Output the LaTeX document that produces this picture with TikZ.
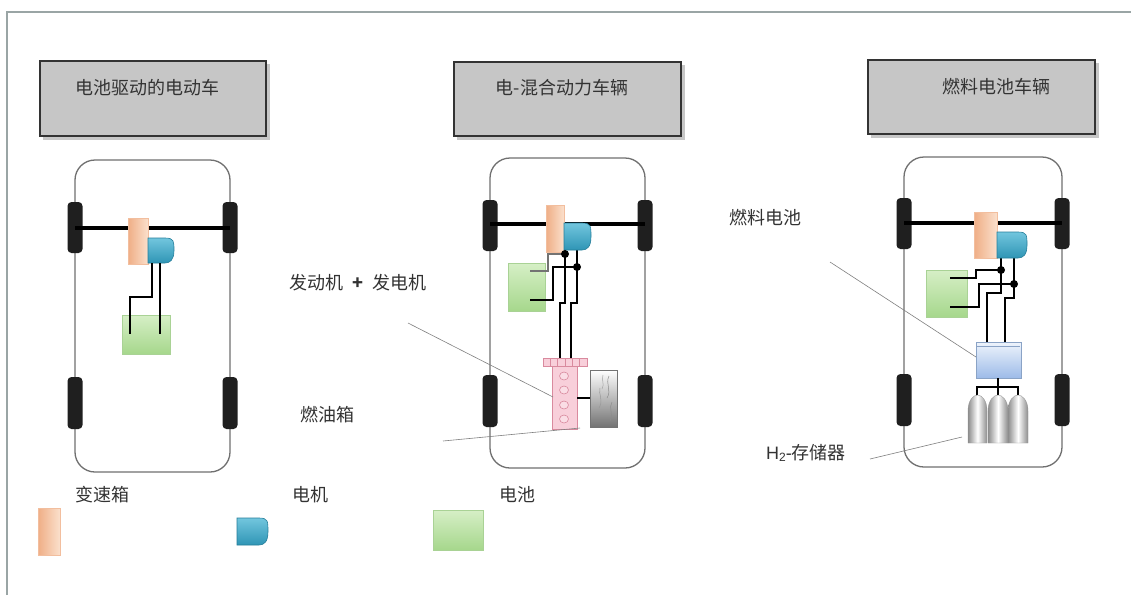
\documentclass[tikz,border=0pt]{standalone}
\usepackage{fontspec}
\setmainfont{Liberation Sans}
\newfontfamily\cjk{Noto Sans CJK SC}
\definecolor{framegray}{HTML}{9AA5A5}
\definecolor{boxgray}{HTML}{C6C6C6}
\definecolor{bodygray}{HTML}{707070}
\definecolor{gearA}{HTML}{EFAE86}
\definecolor{gearB}{HTML}{FBE0CC}
\definecolor{motA}{HTML}{72C6DE}
\definecolor{motB}{HTML}{2F95B5}
\definecolor{motD}{HTML}{267E9A}
\definecolor{batA}{HTML}{D6EFC6}
\definecolor{batB}{HTML}{A6D78C}
\definecolor{batD}{HTML}{A9D295}
\definecolor{engA}{HTML}{F8CFDA}
\definecolor{engD}{HTML}{D98A9E}
\definecolor{fcA}{HTML}{EEF4FC}
\definecolor{fcB}{HTML}{9DBBE8}
\definecolor{fcD}{HTML}{8AA3C6}
\definecolor{txt}{HTML}{333333}
\tikzset{
  framesty/.style={draw=framegray, line width=1.5pt},
  titlebox/.style={fill=boxgray, draw=black!80, line width=1.4pt},
  titleshadow/.style={fill=black!22},
  carbody/.style={draw=bodygray, line width=1.3pt, rounded corners=20pt},
  wheel/.style={fill=black!88, rounded corners=4pt},
  axle/.style={line width=3.2pt, black},
  gearsty/.style={left color=gearA, right color=gearB, draw=gearA!80!white, line width=0.4pt},
  motorsty/.style={top color=motA, bottom color=motB, draw=motD, line width=0.6pt},
  batsty/.style={top color=batA, bottom color=batB, draw=batD, line width=0.6pt},
  wire/.style={black, line width=1.2pt},
  junction/.style={circle, fill=black, inner sep=0pt, minimum size=8pt},
  leader/.style={draw=black!50, line width=0.6pt},
  lbl/.style={font=\cjk\fontsize{18}{20}\selectfont, text=txt, inner sep=0pt},
  engsty/.style={fill=engA, draw=engD, line width=0.6pt},
  fcsty/.style={top color=fcA, bottom color=fcB, draw=fcD, line width=0.6pt},
  tanksty/.style={left color=black!45, right color=black!45, middle color=white, draw=black!40, line width=0.4pt},
}
% D-shaped electric motor: left, top, right, bottom
\newcommand{\motorshape}[4]{%
  \path[motorsty] (#1,#2) -- ({#3-9},#2) .. controls (#3,#2) and (#3,{#2+3}) .. (#3,{(#2+#4)/2})
    .. controls (#3,{#4-3}) and ({#3-4},#4) .. ({#3-9},#4) -- (#1,#4) -- cycle;}
% hydrogen cylinder: left, right, top, bottom
\newcommand{\htank}[4]{%
  \path[tanksty] (#1,#4) -- (#1,{#3+16}) .. controls (#1,{#3+5}) and ({(#1+#2)/2-4},#3) .. ({(#1+#2)/2},#3)
    .. controls ({(#1+#2)/2+4},#3) and (#2,{#3+5}) .. (#2,{#3+16}) -- (#2,#4) -- cycle;}
% car outline with four wheels: left, top, right, bottom, wheel top front, wheel top rear
\newcommand{\carframe}[6]{%
  \draw[carbody] (#1,#2) rectangle (#3,#4);
  \path[wheel] ({#1-7.5},#5) rectangle ({#1+7.5},{#5+51});
  \path[wheel] ({#3-7.5},#5) rectangle ({#3+7.5},{#5+51});
  \path[wheel] ({#1-7.5},#6) rectangle ({#1+7.5},{#6+52});
  \path[wheel] ({#3-7.5},#6) rectangle ({#3+7.5},{#6+52});}
\begin{document}
\begin{tikzpicture}[x=1pt, y=-1pt]
\useasboundingbox (0,0) rectangle (1131,595);
\fill[white] (0,0) rectangle (1131,595);

% outer frame
\draw[framesty] (7,595) -- (7,12) -- (1131,12);

% ---------- title boxes ----------
\fill[titleshadow] (43,64) rectangle (270,140);
\path[titlebox] (40,61) rectangle (266,136);
\node[lbl] (t1) at (147,88) {电池驱动的电动车};

\fill[titleshadow] (457,65) rectangle (685,140);
\path[titlebox] (454,62) rectangle (681,136);
\node[lbl] (t2) at (562,88) {电-混合动力车辆};

\fill[titleshadow] (871,63) rectangle (1099,138);
\path[titlebox] (868,60) rectangle (1095,134);
\node[lbl] (t3) at (996,87) {燃料电池车辆};

% ---------- battery electric car ----------
\carframe{75}{160}{230}{472}{202}{377}
\draw[axle] (75,228) -- (230,228);
\path[gearsty] (128,218) rectangle (148,264);
\motorshape{148}{238}{174}{263}
\path[batsty] (122,315) rectangle (170,354);
\coordinate (a1m1) at (152,263);
\coordinate (a1m2) at (160,263);
\coordinate (a1b1) at (130,334);
\coordinate (a1b2) at (160,334);
\draw[wire] (a1m1) -- (152,297) -- (130,297) -- (a1b1);
\draw[wire] (a1m2) -- (a1b2);

% ---------- hybrid car ----------
\carframe{490}{158}{645}{468}{200}{375}
\draw[axle] (490,224) -- (645,224);
\path[batsty] (508,263) rectangle (545,311);
\coordinate (b2j1) at (565,254);
\coordinate (b2j2) at (577,267);
\draw[wire, black!55] (530,271) -- (548,271) -- (548,254) -- (b2j1);
\draw[wire] (530,300) -- (553,300) -- (553,267) -- (b2j2);
\draw[wire] (565,250) -- (b2j1) -- (565,303) -- (560,303) -- (560,358);
\draw[wire] (577,250) -- (b2j2) -- (577,303) -- (571,303) -- (571,358);
\path[gearsty] (546,205) rectangle (564,252);
\motorshape{564}{223}{591}{250}
\node[junction] at (b2j1) {};
\node[junction] at (b2j2) {};
% engine with generator
\path[engsty] (543,358) rectangle (587,366);
\foreach \sx in {550.3,557.6,564.9,572.2,579.5}
  \draw[engD, line width=0.5pt] (\sx,358) -- (\sx,366);
\path[engsty] (552,366) rectangle (577,429);
\foreach \cy in {376,390,405,419}
  \draw[engD, fill=engA!70!white, line width=0.6pt] (564,\cy) ellipse [x radius=4.5, y radius=4];
\coordinate (engL) at (553,397);
% fuel tank
\path[top color=white, bottom color=black!55, draw=black!55, line width=0.6pt] (590,370) rectangle (617,427);
\draw[black!45, line width=0.5pt] (609,376) .. controls (605,384) and (612,390) .. (607,398);
\draw[black!40, line width=0.5pt] (600,388) .. controls (598,394) and (604,400) .. (599,408);
\draw[black!45, line width=0.5pt] (612,402) .. controls (608,408) and (614,414) .. (610,421);
\draw[black!35, line width=0.5pt] (603,375) .. controls (601,380) and (605,384) .. (602,389);
\draw[wire] (577,398) -- (590,398);
\coordinate (tankL) at (580,428);

% ---------- fuel cell car ----------
\carframe{904}{157}{1062}{467}{198}{374}
\draw[axle] (904,223) -- (1062,223);
\path[batsty] (926,270) rectangle (967,317);
\coordinate (c3j1) at (1001,270);
\coordinate (c3j2) at (1014,284);
\draw[wire] (950,278) -- (976,278) -- (976,270) -- (c3j1);
\draw[wire] (950,307) -- (979,307) -- (979,284) -- (c3j2);
\draw[wire] (1001,258) -- (c3j1) -- (1001,293) -- (987,293) -- (987,343);
\draw[wire] (1014,258) -- (c3j2) -- (1014,298) -- (1005,298) -- (1005,343);
\path[gearsty] (974,212) rectangle (997,258);
\motorshape{997}{232}{1027}{258}
\node[junction] at (c3j1) {};
\node[junction] at (c3j2) {};
% fuel cell stack
\path[fcsty] (976,342) rectangle (1021,378);
\draw[fcD, line width=0.5pt] (977,346) -- (1020,346);
\coordinate (fcL) at (976,357);
% hydrogen storage
\draw[wire] (998,378) -- (998,397);
\draw[wire] (977,397) -- (977,387) -- (1018,387) -- (1018,397);
\htank{968}{987}{395}{443}
\htank{988}{1008}{395}{443}
\htank{1008}{1028}{395}{443}
\coordinate (h2R) at (962,437);

% ---------- labels and leader lines ----------
\node[lbl] (lEng) at (358,283) {发动机\hspace{9pt}\textbf{+}\hspace{9pt}发电机};
\coordinate (lEngEnd) at (408,323);
\draw[leader] (lEngEnd) -- (engL);

\node[lbl] (lFuel) at (327,415) {燃油箱};
\coordinate (lFuelEnd) at (443,441);
\draw[leader] (lFuelEnd) -- (tankL);

\node[lbl] (lFC) at (765,218) {燃料电池};
\coordinate (lFCEnd) at (830,262);
\draw[leader] (lFCEnd) -- (fcL);

\node[lbl] (lH2) at (806,453) {{\fontspec{Liberation Sans}H\raisebox{-0.2ex}{\fontsize{12}{12}\selectfont 2}-}存储器};
\coordinate (lH2End) at (870,459);
\draw[leader] (lH2End) -- (h2R);

% ---------- legend ----------
\node[lbl] (legG) at (102,495) {变速箱};
\path[gearsty] (38,508) rectangle (60,555);
\node[lbl] (legM) at (310,495) {电机};
\motorshape{237}{518}{268}{545}
\node[lbl] (legB) at (517,495) {电池};
\path[batsty] (433,510) rectangle (483,550);
\end{tikzpicture}
\end{document}
